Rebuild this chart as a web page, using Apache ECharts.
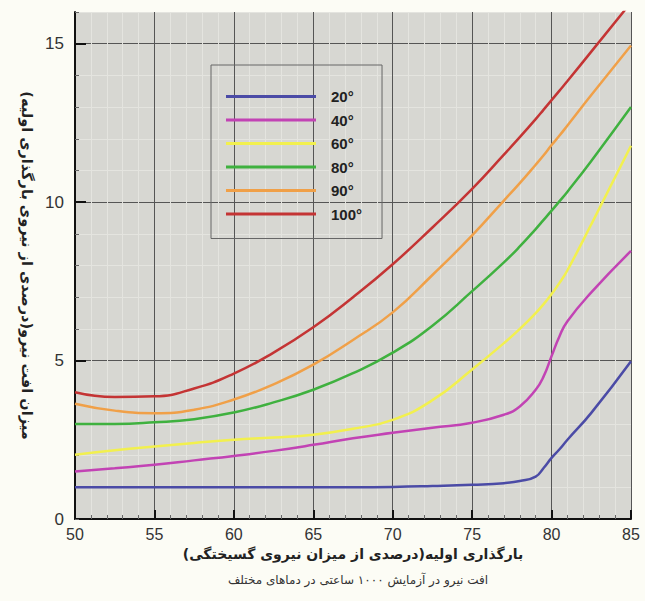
<!DOCTYPE html>
<html>
<head>
<meta charset="utf-8">
<script src="https://cdn.jsdelivr.net/npm/echarts@6/dist/echarts.min.js"></script>
<style>
  html, body { margin: 0; padding: 0; background: #fcfcf5; }
  #chart { width: 645px; height: 601px; }
</style>
</head>
<body>
<div id="chart"></div>
<script>
// بارگذاری اولیه (%)
const loads = [50, 52.5, 55, 57.5, 60, 62.5, 65, 67.5, 70, 72.5, 75, 77, 78, 79, 79.5, 80, 80.5, 81, 82.5, 85];
// افت نیرو (%) برای هر دما
const t20  = [1.0, 1.0, 1.0, 1.0, 1.0, 1.0, 1.0, 1.0, 1.01, 1.04, 1.08, 1.13, 1.2, 1.34, 1.61, 1.93, 2.2, 2.5, 3.35, 4.98];
const t40  = [1.5, 1.6, 1.71, 1.85, 1.99, 2.15, 2.34, 2.55, 2.72, 2.88, 3.04, 3.29, 3.55, 4.08, 4.5, 5.14, 5.77, 6.24, 7.15, 8.46];
const t60  = [2.03, 2.17, 2.29, 2.4, 2.5, 2.57, 2.66, 2.85, 3.13, 3.75, 4.72, 5.55, 6.0, 6.5, 6.78, 7.1, 7.45, 7.85, 9.3, 11.78];
const t80  = [3.0, 3.0, 3.05, 3.15, 3.36, 3.68, 4.08, 4.6, 5.25, 6.1, 7.19, 8.1, 8.6, 9.15, 9.44, 9.73, 10.03, 10.33, 11.3, 13.0];
const t90  = [3.64, 3.42, 3.34, 3.45, 3.77, 4.25, 4.87, 5.65, 6.52, 7.7, 8.95, 10.05, 10.6, 11.18, 11.48, 11.8, 12.1, 12.42, 13.38, 14.94];
const t100 = [4.0, 3.85, 3.87, 4.12, 4.59, 5.25, 6.05, 7.0, 8.04, 9.2, 10.42, 11.5, 12.05, 12.62, 12.92, 13.22, 13.52, 13.82, 14.75, 16.3];

const seriesNames = ['20°', '40°', '60°', '80°', '90°', '100°'];
const seriesValues = [t20, t40, t60, t80, t90, t100];
const seriesColors = ['#4b4ba6', '#c243b4', '#f2f04e', '#3fb13f', '#f0a048', '#c43434'];

const xTicks = [50, 55, 60, 65, 70, 75, 80, 85];
const yTicks = [0, 5, 10, 15];

const yTitle = 'میزان افت نیرو(درصدی از نیروی بارگذاری اولیه)';
const xTitle = 'بارگذاری اولیه(درصدی از میزان نیروی گسیختگی)';
const caption = 'افت نیرو در آزمایش ۱۰۰۰ ساعتی در دماهای مختلف';

const chart = echarts.init(document.getElementById('chart'), null, { renderer: 'svg' });

const numFont = '"Liberation Sans", Arial, sans-serif';
const faFont = '"DejaVu Sans", sans-serif';
const major = '#555555';
const minor = '#e4e4df';

function gridColors(n) {
  // هر پنج خط، یک خط اصلی
  const c = [major];
  for (let i = 1; i < n; i++) c.push(minor);
  return c;
}

const option = {
  backgroundColor: '#fcfcf5',
  animation: false,
  title: {
    text: caption,
    left: 353,
    top: 569,
    textAlign: 'center',
    textStyle: { fontFamily: faFont, fontSize: 12, fontWeight: 'normal', color: '#333' }
  },
  grid: {
    left: 75, right: 14, top: 12, bottom: 82,
    show: true,
    backgroundColor: '#d7d7d2',
    borderWidth: 0
  },
  legend: {
    orient: 'vertical',
    left: 211,
    top: 65,
    padding: [24, 20, 17, 15],
    itemGap: 8.5,
    itemWidth: 90,
    itemHeight: 3,
    icon: 'rect',
    borderColor: '#666',
    borderWidth: 1,
    backgroundColor: 'transparent',
    textStyle: { fontFamily: numFont, fontSize: 15, fontWeight: 'bold', color: '#222', padding: [0, 0, 0, 10] },
    data: seriesNames
  },
  xAxis: [
    {
      type: 'value',
      min: 50, max: 85, interval: 1,
      name: xTitle,
      nameLocation: 'middle',
      nameGap: 27,
      nameTextStyle: { fontFamily: faFont, fontSize: 14, fontWeight: 'bold', color: '#222' },
      axisLine: { show: true, lineStyle: { color: '#111', width: 2 } },
      axisTick: { show: true, inside: true, length: 4, lineStyle: { color: '#666', width: 1 } },
      axisLabel: {
        margin: 7,
        fontFamily: numFont, fontSize: 16, color: '#333',
        formatter: v => (xTicks.indexOf(v) >= 0 ? String(v) : '')
      },
      splitLine: { show: true, lineStyle: { color: gridColors(5), width: 1 } }
    },
    {
      type: 'value',
      position: 'bottom',
      min: 50, max: 85, interval: 5,
      axisLine: { show: false },
      axisLabel: { show: false },
      splitLine: { show: false },
      axisTick: { show: true, inside: true, length: 9, lineStyle: { color: '#111', width: 2 } }
    }
  ],
  yAxis: [
    {
      type: 'value',
      min: 0, max: 16, interval: 1,
      name: yTitle,
      nameLocation: 'middle',
      nameRotate: -90,
      nameGap: 38,
      nameTextStyle: { fontFamily: faFont, fontSize: 14.5, fontWeight: 'bold', color: '#222' },
      axisLine: { show: true, lineStyle: { color: '#111', width: 2 } },
      axisTick: { show: true, inside: true, length: 4, lineStyle: { color: '#666', width: 1 } },
      axisLabel: {
        margin: 11,
        fontFamily: numFont, fontSize: 17, color: '#333',
        formatter: v => (yTicks.indexOf(v) >= 0 ? String(v) : '')
      },
      splitLine: { show: true, lineStyle: { color: gridColors(5), width: 1 } }
    },
    {
      type: 'value',
      position: 'left',
      min: 0, max: 16, interval: 5,
      axisLine: { show: false },
      axisLabel: { show: false },
      splitLine: { show: false },
      axisTick: { show: true, inside: true, length: 11, customValues: [5, 10, 15], lineStyle: { color: '#111', width: 2 } }
    }
  ],
  series: seriesNames.map((name, i) => ({
    name: name,
    type: 'line',
    xAxisIndex: 0,
    yAxisIndex: 0,
    symbol: 'none',
    smooth: 0.5,
    clip: true,
    lineStyle: { color: seriesColors[i], width: 2.5 },
    itemStyle: { color: seriesColors[i] },
    data: loads.map((x, j) => [x, seriesValues[i][j]])
  }))
};

chart.setOption(option);
</script>
</body>
</html>
